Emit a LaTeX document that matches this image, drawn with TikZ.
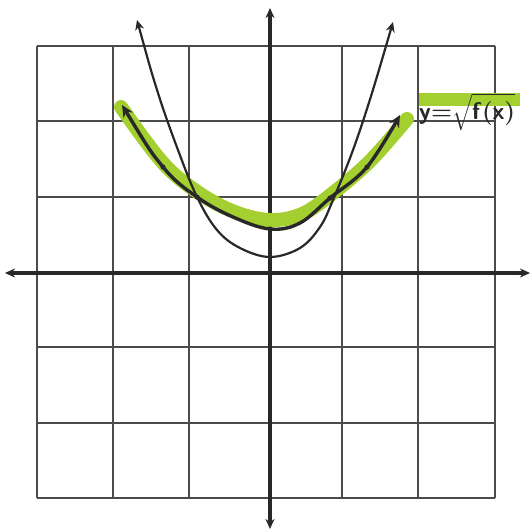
\documentclass[tikz,border=0pt]{standalone}
\usetikzlibrary{arrows.meta}
\definecolor{gridc}{RGB}{75,75,75}
\definecolor{inkc}{RGB}{40,40,40}
\definecolor{hl}{RGB}{163,208,48}
\begin{document}
\begin{tikzpicture}[x=0.5pt,y=-0.5pt,
  gridline/.style={gridc, line width=1.1pt},
  axisline/.style={inkc, line width=1.6pt, {Stealth[length=5pt,width=4.5pt]}-{Stealth[length=5pt,width=4.5pt]}},
  highlight/.style={hl, line width=7pt, line cap=round, line join=round},
  thincurve/.style={inkc, line width=1.1pt, {Stealth[length=5pt,width=4.5pt]}-{Stealth[length=5pt,width=4.5pt]}},
  rootcurve/.style={inkc, line width=1.7pt, {Stealth[length=6pt,width=5.5pt]}-{Stealth[length=6pt,width=5.5pt]}},
  dotmark/.style={inkc},
  lab/.style={font=\fontsize{12.5}{14}\selectfont\boldmath, inner sep=0pt, text=inkc}]
\useasboundingbox (0,0) rectangle (532,531);
% grid
\foreach \gx in {37,113,189,342,418,495}
  \draw[gridline] (\gx,46) -- (\gx,498);
\foreach \gy in {46,121,197,347,423,498}
  \draw[gridline] (37,\gy) -- (495,\gy);
% axes
\draw[axisline] (5,273) -- (530,273);
\draw[axisline] (270,529) -- (270,8);
% highlighter
\draw[highlight] plot[smooth, tension=0.6] coordinates {(121,107) (163,163) (199,193) (235,212) (270,220) (302,214) (333,193) (370,161) (407,119)};
\fill[hl] (419,93) rectangle (520,106);
% parabola y = f(x)
\draw[thincurve] plot[smooth, tension=0.6] coordinates {(137,20) (158,93) (178,150) (197,197) (217,230) (240,248) (270,257) (300,248) (320,227) (333,200) (353,150) (372,93) (393,22)};
% y = sqrt(f(x))
\draw[rootcurve] plot[smooth, tension=0.6] coordinates {(122,105) (163,167) (197,197) (233,217) (270,229) (300,223) (330,198) (367,167) (400,115)};
\foreach \p in {(163,167),(197,197),(270,229),(330,198),(367,167)}
  \fill[dotmark] \p circle (2.6);
% label
\node[lab] (flabel) at (467,112) {$\mathsf{y{=}\sqrt{f(x)}}$};
\end{tikzpicture}
\end{document}
